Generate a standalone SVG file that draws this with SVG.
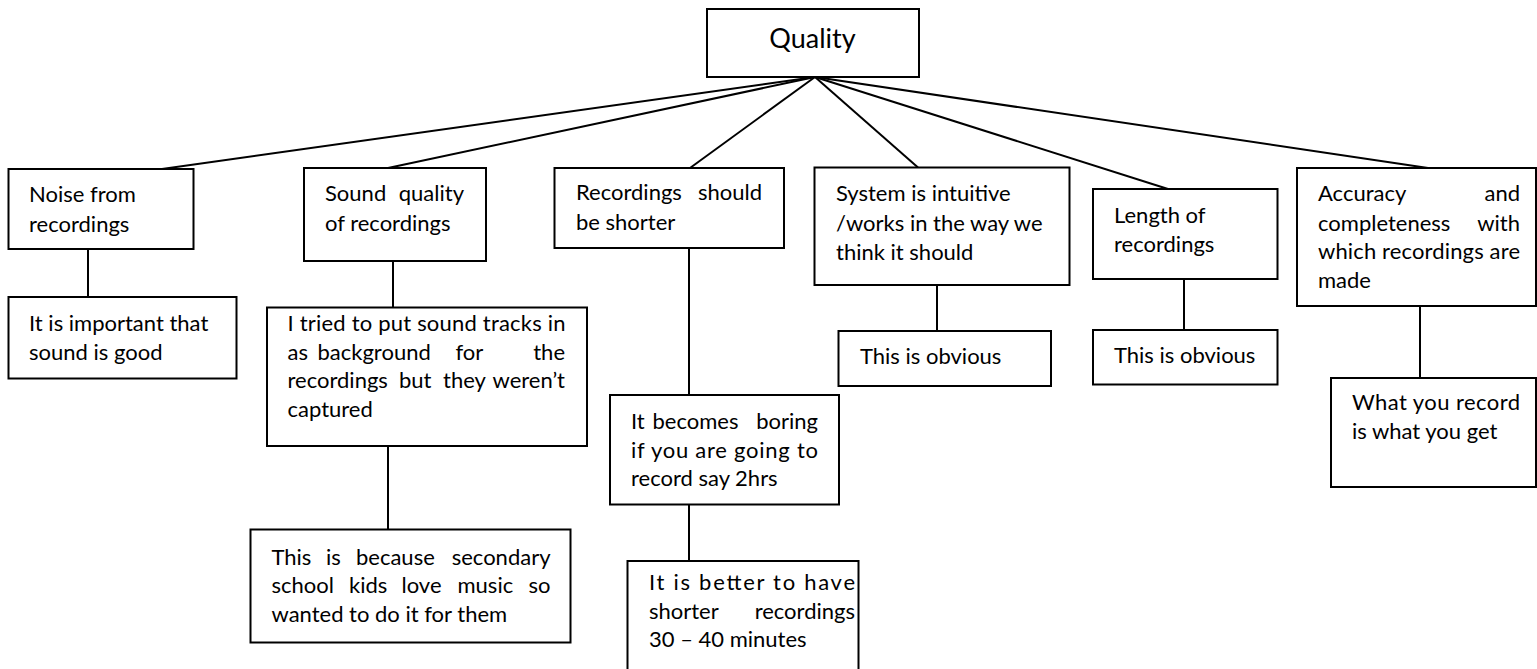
<svg xmlns="http://www.w3.org/2000/svg" width="1537" height="669" viewBox="0 0 1537 669">
  <style>
    .box { fill: #fff; stroke: #000; stroke-width: 2; }
    .link { stroke: #000; stroke-width: 2; fill: none; }
    .t { font-family: Lato, "Open Sans", sans-serif; font-size: 22px; fill: #000; }
    .e { text-anchor: end; }
    .title { font-family: Lato, "Open Sans", sans-serif; font-size: 27px; fill: #000; }
  </style>
  <rect width="1537" height="669" fill="#fff"/>

  <g id="connectors">
    <line class="link" x1="815" y1="77" x2="162" y2="169"/>
    <line class="link" x1="815" y1="77" x2="388" y2="168"/>
    <line class="link" x1="815" y1="77" x2="690" y2="168"/>
    <line class="link" x1="815" y1="77" x2="918" y2="167.5"/>
    <line class="link" x1="815" y1="77" x2="1168" y2="189"/>
    <line class="link" x1="815" y1="77" x2="1428" y2="168"/>
    <line class="link" x1="88" y1="249" x2="88" y2="297"/>
    <line class="link" x1="393" y1="261" x2="393" y2="307.5"/>
    <line class="link" x1="689" y1="248" x2="689" y2="395"/>
    <line class="link" x1="937" y1="285" x2="937" y2="331"/>
    <line class="link" x1="1184" y1="279" x2="1184" y2="330"/>
    <line class="link" x1="1420" y1="306" x2="1420" y2="378"/>
    <line class="link" x1="388" y1="446" x2="388" y2="529.5"/>
    <line class="link" x1="689" y1="504" x2="689" y2="561"/>
  </g>

  <g id="quality">
    <rect class="box" x="707" y="9" width="212" height="68"/>
    <text class="title" x="812.5" y="48" text-anchor="middle">Quality</text>
  </g>

  <g id="noise">
    <rect class="box" x="8.5" y="169" width="185" height="80"/>
    <text class="t" x="29" y="202">Noise from</text>
    <text class="t" x="29" y="232">recordings</text>
  </g>

  <g id="sound-quality">
    <rect class="box" x="304" y="168" width="182" height="93"/>
    <text class="t" x="325" y="201">Sound</text>
    <text class="t e" x="464" y="201">quality</text>
    <text class="t" x="325" y="231">of recordings</text>
  </g>

  <g id="shorter">
    <rect class="box" x="554.5" y="168" width="229.5" height="80"/>
    <text class="t" x="576" y="200">Recordings</text>
    <text class="t e" x="762" y="200">should</text>
    <text class="t" x="576" y="230">be shorter</text>
  </g>

  <g id="intuitive">
    <rect class="box" x="814.5" y="167.5" width="255" height="117.5"/>
    <text class="t" x="836" y="201">System is intuitive</text>
    <text class="t" x="836" y="231">/works in the way we</text>
    <text class="t" x="836" y="260">think it should</text>
  </g>

  <g id="length">
    <rect class="box" x="1093" y="189" width="184.5" height="90"/>
    <text class="t" x="1114" y="223">Length of</text>
    <text class="t" x="1114" y="252">recordings</text>
  </g>

  <g id="accuracy">
    <rect class="box" x="1297" y="168" width="239" height="138"/>
    <text class="t" x="1318" y="201">Accuracy</text>
    <text class="t e" x="1520" y="201">and</text>
    <text class="t" x="1318" y="231">completeness</text>
    <text class="t e" x="1520" y="231">with</text>
    <text class="t" x="1318" y="259" textLength="202" lengthAdjust="spacing">which recordings are</text>
    <text class="t" x="1318" y="288">made</text>
  </g>

  <g id="sound-important">
    <rect class="box" x="8.5" y="297" width="228" height="81.5"/>
    <text class="t" x="29" y="331">It is important that</text>
    <text class="t" x="29" y="359.5">sound is good</text>
  </g>

  <g id="sound-tracks">
    <rect class="box" x="267" y="307.5" width="320" height="138.5"/>
    <text class="t" x="287.5" y="331" textLength="278" lengthAdjust="spacing">I tried to put sound tracks in</text>
    <text class="t" y="359.5"><tspan x="287.5">as</tspan><tspan x="317.5">background</tspan><tspan x="455.5">for</tspan></text>
    <text class="t e" x="565" y="359.5">the</text>
    <text class="t" y="388"><tspan x="287.5">recordings</tspan><tspan x="399">but</tspan><tspan x="443">they</tspan></text>
    <text class="t e" x="565" y="388">weren’t</text>
    <text class="t" x="287.5" y="416.5">captured</text>
  </g>

  <g id="boring">
    <rect class="box" x="610" y="395" width="229" height="109.5"/>
    <text class="t" y="429"><tspan x="631">It</tspan><tspan x="652.5">becomes</tspan></text>
    <text class="t e" x="818" y="429">boring</text>
    <text class="t" x="631" y="457.5" textLength="187" lengthAdjust="spacing">if you are going to</text>
    <text class="t" x="631" y="486">record say 2hrs</text>
  </g>

  <g id="obvious-intuitive">
    <rect class="box" x="838.5" y="331" width="212.5" height="55"/>
    <text class="t" x="860" y="364">This is obvious</text>
  </g>

  <g id="obvious-length">
    <rect class="box" x="1093" y="330" width="184.5" height="54.5"/>
    <text class="t" x="1114" y="363">This is obvious</text>
  </g>

  <g id="what-you-get">
    <rect class="box" x="1331" y="378" width="205" height="109"/>
    <text class="t" x="1352" y="410" textLength="168" lengthAdjust="spacing">What you record</text>
    <text class="t" x="1352" y="438.5">is what you get</text>
  </g>

  <g id="music">
    <rect class="box" x="250.5" y="529.5" width="320" height="113"/>
    <text class="t" y="564.5"><tspan x="271.5">This</tspan><tspan x="326">is</tspan><tspan x="356">because</tspan></text>
    <text class="t e" x="550.5" y="564.5">secondary</text>
    <text class="t" y="593"><tspan x="271.5">school</tspan><tspan x="349">kids</tspan><tspan x="401.5">love</tspan><tspan x="457.5">music</tspan></text>
    <text class="t e" x="550.5" y="593">so</text>
    <text class="t" x="271.5" y="622">wanted to do it for them</text>
  </g>

  <g id="better">
    <rect class="box" x="627.5" y="561" width="231" height="120"/>
    <text class="t" x="649" y="590" textLength="206" lengthAdjust="spacing">It is better to have</text>
    <text class="t" x="649" y="618.5">shorter</text>
    <text class="t e" x="855" y="618.5">recordings</text>
    <text class="t" x="649" y="647">30 – 40 minutes</text>
  </g>
</svg>
